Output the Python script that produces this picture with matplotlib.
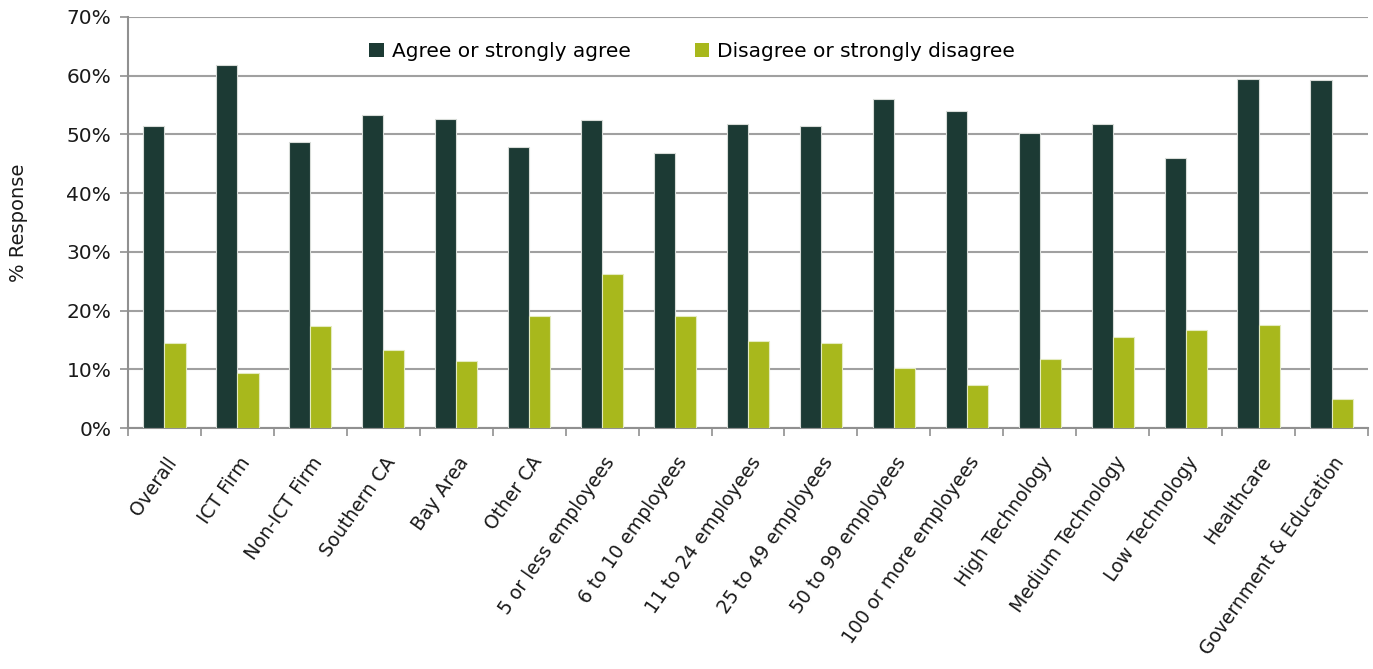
import numpy as np
import matplotlib.pyplot as plt
from matplotlib.ticker import PercentFormatter

categories = ['Overall', 'ICT Firm', 'Non-ICT Firm', 'Southern CA', 'Bay Area',
              'Other CA', '5 or less employees', '6 to 10 employees',
              '11 to 24 employees', '25 to 49 employees', '50 to 99 employees',
              '100 or more employees', 'High Technology', 'Medium Technology',
              'Low Technology', 'Healthcare', 'Government & Education']
agree = [51.5, 61.9, 48.7, 53.3, 52.7, 47.8, 52.4, 46.8, 51.8, 51.5, 56.1,
         54.0, 50.3, 51.8, 46.0, 59.5, 59.2]
disagree = [14.5, 9.3, 17.3, 13.3, 11.4, 19.1, 26.2, 19.1, 14.8, 14.5, 10.2,
            7.4, 11.8, 15.5, 16.7, 17.6, 5.0]

plt.rcParams['font.family'] = ['DejaVu Sans']

fig = plt.figure(figsize=(13.73, 6.69), dpi=100)
ax = fig.add_axes([0.0932, 0.3602, 0.9032, 0.6144])

x = np.arange(len(categories))
w = 0.29
ax.bar(x - w / 2, agree, w, color='#1C3A34', edgecolor='#d8dcd8', linewidth=0.8,
       label='Agree or strongly agree', zorder=3)
ax.bar(x + w / 2, disagree, w, color='#A8B81C', edgecolor='#e4ebc0', linewidth=0.8,
       label='Disagree or strongly disagree', zorder=3)

ax.set_xlim(-0.5, len(categories) - 0.5)
ax.set_ylim(0, 70)
ax.set_yticks(range(0, 71, 10))
ax.yaxis.set_major_formatter(PercentFormatter(decimals=0))
ax.yaxis.grid(True, color='#a0a0a0', linewidth=1.5, zorder=0)

# tick marks between categories; labels nudged a little right of centre
ax.set_xticks(np.arange(len(categories) + 1) - 0.5, minor=False)
ax.set_xticklabels([])
ax.set_xticks(x + 0.12, minor=True)
ax.set_xticklabels(categories, minor=True, rotation=55, ha='right',
                   va='center', rotation_mode='anchor', fontsize=13.5,
                   color='#1a1a1a')
ax.tick_params(axis='x', which='minor', length=0, pad=22)
ax.tick_params(axis='x', which='major', length=6, width=1.2, color='#909090')
ax.tick_params(axis='y', length=6, width=1.2, color='#909090', labelsize=14.5,
               labelcolor='#1a1a1a', pad=6)

for s in ['top', 'right']:
    ax.spines[s].set_visible(False)
for s in ['left', 'bottom']:
    ax.spines[s].set_color('#909090')
    ax.spines[s].set_linewidth(1.5)

ax.set_ylabel('% Response', fontsize=14, color='#1a1a1a', labelpad=28)

leg = ax.legend(loc='center', bbox_to_anchor=(0.455, 0.915), ncol=2, frameon=False,
                fontsize=14.5, handlelength=0.7, handleheight=0.7, handletextpad=0.4,
                columnspacing=3.2)
for h in leg.legend_handles:
    h.set_edgecolor('none')

fig.savefig('out.png', dpi=100, facecolor='white')
